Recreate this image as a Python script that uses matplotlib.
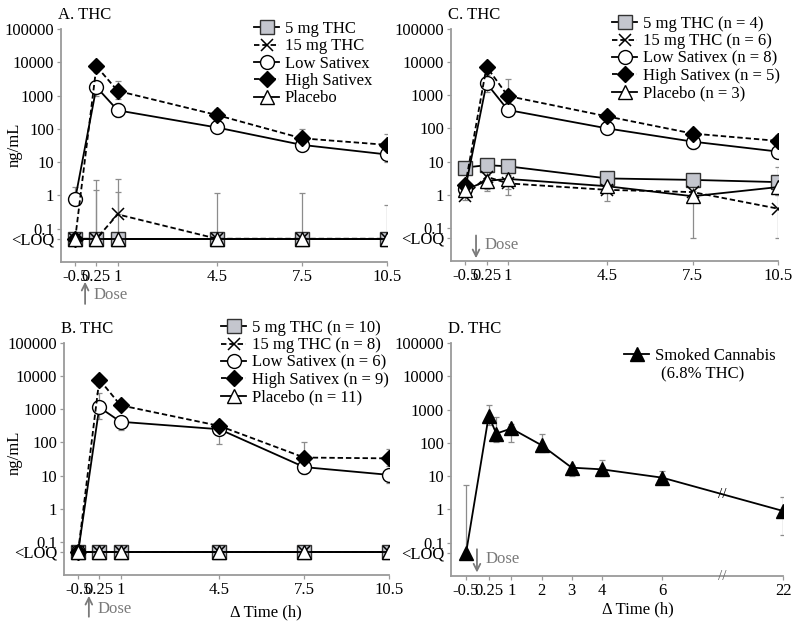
import numpy as np
import matplotlib.pyplot as plt
import matplotlib.transforms as mtransforms
from matplotlib.ticker import NullLocator

plt.rcParams['font.family'] = ['Liberation Serif', 'DejaVu Serif']
plt.rcParams['font.size'] = 12

NA = np.nan
LOQ = 0.05

# ---- shared axes data ----
times = [-0.5, 0.25, 1, 4.5, 7.5, 10.5]
time_labels = ['-0.5', '0.25', '1', '4.5', '7.5', '10.5']
y_ticks = [1e5, 1e4, 1e3, 100, 10, 1, 0.1, LOQ]
y_labels = ['100000', '10000', '1000', '100', '10', '1', '0.1', '<LOQ']

# ---- panel A ----
a_names = ['5 mg THC', '15 mg THC', 'Low Sativex', 'High Sativex', 'Placebo']
a_5mg = [0.05, 0.05, 0.05, 0.05, 0.05, 0.05]
a_5mg_lo = [NA, NA, NA, NA, NA, NA]
a_5mg_hi = [NA, 1.5, 1.3, NA, NA, NA]
a_15mg = [0.05, 0.05, 0.27, 0.05, 0.05, 0.05]
a_15mg_lo = [NA, NA, NA, NA, NA, NA]
a_15mg_hi = [NA, 3.0, 3.2, 1.2, 1.2, 0.52]
a_low = [0.78, 1800, 360, 110, 33, 17]
a_low_lo = [NA, 1000, 230, 80, 22, 10]
a_low_hi = [1.8, 2600, 600, 150, 45, 22]
a_high = [0.05, 7600, 1380, 260, 52, 33]
a_high_lo = [NA, 5000, 800, 180, 30, 22]
a_high_hi = [NA, 10000, 2700, 400, 100, 70]
a_plac = [0.05, 0.05, 0.05, 0.05, 0.05, 0.05]

# ---- panel B ----
b_names = ['5 mg THC (n = 10)', '15 mg THC (n = 8)', 'Low Sativex (n = 6)',
           'High Sativex (n = 9)', 'Placebo (n = 11)']
b_5mg = [0.05, 0.05, 0.05, 0.05, 0.05, 0.05]
b_15mg = [0.05, 0.05, 0.05, 0.05, 0.05, 0.05]
b_low = [0.05, 1150, 420, 250, 18, 10.5]
b_low_lo = [NA, 500, 240, 90, 11, 6]
b_low_hi = [NA, 3000, 600, 350, 25, 15]
b_high = [0.05, 7900, 1320, 315, 35, 33]
b_high_lo = [NA, 5000, 1000, 250, 20, 20]
b_high_hi = [NA, 11000, 1600, 400, 105, 65]
b_plac = [0.05, 0.05, 0.05, 0.05, 0.05, 0.05]

# ---- panel C ----
c_names = ['5 mg THC (n = 4)', '15 mg THC (n = 6)', 'Low Sativex (n = 8)',
           'High Sativex (n = 5)', 'Placebo (n = 3)']
c_5mg = [6.6, 7.8, 7.2, 3.1, 2.8, 2.4]
c_5mg_lo = [5, 5.5, 5, 2, 2, 1.2]
c_5mg_hi = [9, 11, 10, 5, 4.2, 7]
c_15mg = [0.9, 3.5, 2.2, 1.4, 1.2, 0.38]
c_15mg_lo = [0.7, 1.3, 1.0, 0.65, 0.6, 0.05]
c_15mg_hi = [1.3, 5, 4, 2.5, 2, 1]
c_low = [1.5, 2300, 360, 100, 40, 20]
c_low_lo = [1, 1300, 250, 75, 24, 13]
c_low_hi = [2.5, 4000, 600, 140, 55, 30]
c_high = [1.9, 7300, 950, 230, 70, 42]
c_high_lo = [1.5, 5000, 500, 180, 50, 30]
c_high_hi = [2.5, 9000, 3000, 300, 90, 65]
c_plac = [1.4, 2.6, 3.0, 1.8, 0.9, 1.7]
c_plac_lo = [1, 1.5, 1.5, 1.2, 0.05, 1.0]
c_plac_hi = [2, 4, 4.5, 2.5, 1.3, 2.5]

# ---- panel D ----
d_times = [-0.5, 0.25, 0.5, 1, 2, 3, 4, 6, 22]
d_tick_times = [-0.5, 0.25, 1, 2, 3, 4, 6, 22]
d_tick_labels = ['-0.5', '0.25', '1', '2', '3', '4', '6', '22']
d_smoked = [0.05, 650, 190, 270, 85, 18, 16, 9, 0.9]
d_smoked_lo = [NA, 350, 107, 107, 54, 10, 10, 6, 0.17]
d_smoked_hi = [5.5, 1350, 600, 380, 190, 22, 30, 14, 2.4]

GREY = '#8c8c8c'
SPINE = '#9a9a9a'

styles = [
    dict(marker='s', ls='-', mfc='#c4c6ce', mec='#333333', ms=10),
    dict(marker='x', ls=(0, (3, 1.6)), mfc='k', mec='k', ms=9, mew=1.1),
    dict(marker='o', ls='-', mfc='white', mec='k', ms=10),
    dict(marker='D', ls=(0, (3, 1.6)), mfc='k', mec='k', ms=8),
    dict(marker='^', ls='-', mfc='white', mec='k', ms=10),
]


def d_pos(t):
    # broken axis: 22 h is drawn 12 h closer
    t = np.asarray(t, float)
    return np.where(t > 6, t - 12, t)


def errbars(ax, x, vals, lo, hi):
    x = np.asarray(x, float)
    vals = np.asarray(vals, float)
    lo = np.asarray(lo, float)
    hi = np.asarray(hi, float)
    down = np.where(np.isnan(lo), 0, vals - lo)
    up = np.where(np.isnan(hi), 0, hi - vals)
    keep = (down > 0) | (up > 0)
    ax.errorbar(x[keep], vals[keep], yerr=[down[keep], up[keep]], fmt='none',
                ecolor=GREY, elinewidth=0.9, capsize=2, capthick=0.9, zorder=1)


def setup(ax, title, xlim):
    ax.set_yscale('log')
    ax.set_ylim(0.01, 1e5)
    ax.set_xlim(*xlim)
    ax.set_yticks(y_ticks)
    ax.set_yticklabels(y_labels)
    ax.yaxis.set_minor_locator(NullLocator())
    for s in ['top', 'right']:
        ax.spines[s].set_visible(False)
    for s in ['left', 'bottom']:
        ax.spines[s].set_color(SPINE)
        ax.spines[s].set_linewidth(1.3)
    ax.tick_params(length=3, width=0.9, color=SPINE, pad=2, labelsize=12)
    ax.set_facecolor('white')
    ax.text(-0.01, 1.025, title, transform=ax.transAxes, ha='left', va='bottom', fontsize=12)


def dose(ax, x, y_tail, y_tip, y_text):
    tr = mtransforms.blended_transform_factory(ax.transData, ax.transAxes)
    ax.annotate('', xy=(x, y_tip), xytext=(x, y_tail), xycoords=tr, textcoords=tr,
                arrowprops=dict(arrowstyle='->', color='#7a7a7a', lw=1.3,
                                shrinkA=0, shrinkB=0, mutation_scale=12),
                annotation_clip=False)
    ax.text(x + 0.3, y_text, 'Dose', transform=tr, color='#7a7a7a', ha='left',
            va='center', fontsize=12, clip_on=False)


def five_panel(ax, names, series, errs):
    order = [4, 0, 1, 2, 3]
    lines = {}
    for i in order:
        lo, hi = errs[i]
        if lo is not None:
            errbars(ax, times, series[i], lo, hi)
        ln, = ax.plot(times, series[i], color='k', lw=1.3, label=names[i],
                      zorder=3 + i, **styles[i])
        lines[i] = ln
    return [lines[i] for i in range(5)]


W, H = 800, 626
fig = plt.figure(figsize=(W / 100, H / 100), dpi=100)


def box(l, r, t, b):
    return [l / W, (H - b) / H, (r - l) / W, (b - t) / H]


ax_a = fig.add_axes(box(61, 387, 29, 262))
ax_c = fig.add_axes(box(451, 778, 29, 261))
ax_b = fig.add_axes(box(64, 389, 343, 575))
ax_d = fig.add_axes(box(451, 783, 343, 576))

leg_kw = dict(frameon=False, loc='upper left', handlelength=1.5, handletextpad=0.35,
              labelspacing=0.08, borderpad=0, borderaxespad=0, fontsize=12)

# A
setup(ax_a, 'A. THC', (-1, 10.5))
h = five_panel(ax_a, a_names, [a_5mg, a_15mg, a_low, a_high, a_plac],
               [(a_5mg_lo, a_5mg_hi), (a_15mg_lo, a_15mg_hi), (a_low_lo, a_low_hi),
                (a_high_lo, a_high_hi), (None, None)])
ax_a.set_xticks(times)
ax_a.set_xticklabels(time_labels)
fig.text(15 / W, 1 - 145 / H, 'ng/mL', rotation=90, ha='center', va='center', fontsize=12)
fig.legend(handles=h, bbox_to_anchor=(254 / W, 1 - 21 / H), **leg_kw)
dose(ax_a, -0.15, -0.18, -0.085, -0.14)

# C
setup(ax_c, 'C. THC', (-1, 10.5))
h = five_panel(ax_c, c_names, [c_5mg, c_15mg, c_low, c_high, c_plac],
               [(c_5mg_lo, c_5mg_hi), (c_15mg_lo, c_15mg_hi), (c_low_lo, c_low_hi),
                (c_high_lo, c_high_hi), (c_plac_lo, c_plac_hi)])
ax_c.set_xticks(times)
ax_c.set_xticklabels(time_labels)
fig.legend(handles=h, bbox_to_anchor=(612 / W, 1 - 16 / H), **leg_kw)
dose(ax_c, -0.12, 0.11, 0.012, 0.07)

# B
setup(ax_b, 'B. THC', (-1, 10.5))
h = five_panel(ax_b, b_names, [b_5mg, b_15mg, b_low, b_high, b_plac],
               [(None, None), (None, None), (b_low_lo, b_low_hi),
                (b_high_lo, b_high_hi), (None, None)])
ax_b.set_xticks(times)
ax_b.set_xticklabels(time_labels)
fig.text(15 / W, 1 - 453 / H, 'ng/mL', rotation=90, ha='center', va='center', fontsize=12)
fig.legend(handles=h, bbox_to_anchor=(221 / W, 1 - 320 / H), **leg_kw)
dose(ax_b, -0.12, -0.18, -0.09, -0.145)
ax_b.text(6.15, -0.16, 'Δ Time (h)', transform=mtransforms.blended_transform_factory(
    ax_b.transData, ax_b.transAxes), ha='center', va='center', fontsize=12)

# D
setup(ax_d, 'D. THC', (-1, 10))
dx = d_pos(d_times)
errbars(ax_d, dx, d_smoked, d_smoked_lo, d_smoked_hi)
hd, = ax_d.plot(dx, d_smoked, color='k', lw=1.3, marker='^', ms=10, mfc='k', mec='k',
                label='Smoked Cannabis', zorder=3)
ax_d.set_xticks(d_pos(d_tick_times))
ax_d.set_xticklabels(d_tick_labels)
fig.legend(handles=[hd], bbox_to_anchor=(624 / W, 1 - 348 / H), **leg_kw)
fig.text(703 / W, 1 - 374 / H, '(6.8% THC)', ha='center', va='center', fontsize=12)
dose(ax_d, -0.14, 0.115, 0.015, 0.075)
trd = mtransforms.blended_transform_factory(ax_d.transData, ax_d.transAxes)
ax_d.text(5.2, -0.145, 'Δ Time (h)', transform=trd, ha='center', va='center', fontsize=12)
# break marks
ax_d.text(8, 0, '//', transform=trd, ha='center', va='center', fontsize=11,
          color='#666666', clip_on=False, zorder=6)
ax_d.text(8, 2.8, '//', ha='center', va='center', fontsize=11, color='k', zorder=6)

fig.savefig('out.png', dpi=100, facecolor='white')
